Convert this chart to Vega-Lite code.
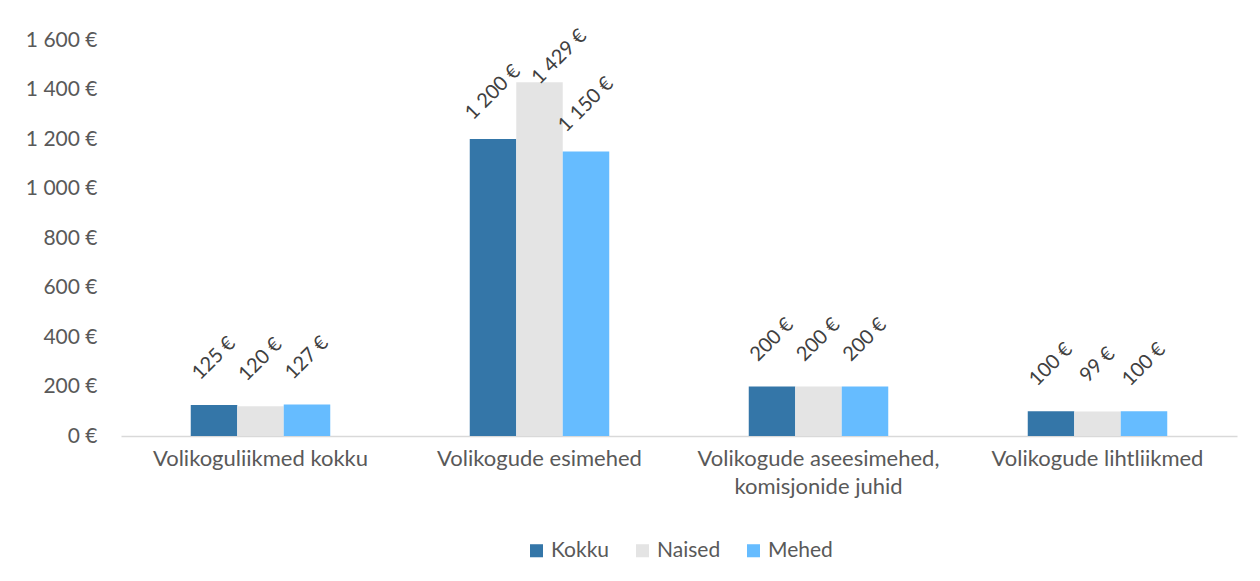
{
  "$schema": "https://vega.github.io/schema/vega-lite/v6.json",
  "autosize": {"type": "none"},
  "width": 1116,
  "height": 396,
  "padding": {"left": 121, "top": 40, "right": 23, "bottom": 145},
  "background": "white",
  "config": {
    "locale": {"number": {"decimal": ",", "thousands": " ", "grouping": [3], "currency": ["", " €"]}},
    "view": {"stroke": null},
    "font": "Lato",
    "axis": {"labelFont": "Lato", "labelColor": "#595959", "labelFontSize": 21, "grid": false, "ticks": false, "title": null},
    "legend": {"labelFont": "Lato", "labelColor": "#595959", "labelFontSize": 21, "layout": {"bottom": {"anchor": "middle"}}}
  },
  "data": {
    "values": [
      {"category": "Volikoguliikmed kokku", "series": "Kokku", "value": 125},
      {"category": "Volikoguliikmed kokku", "series": "Naised", "value": 120},
      {"category": "Volikoguliikmed kokku", "series": "Mehed", "value": 127},
      {"category": "Volikogude esimehed", "series": "Kokku", "value": 1200},
      {"category": "Volikogude esimehed", "series": "Naised", "value": 1429},
      {"category": "Volikogude esimehed", "series": "Mehed", "value": 1150},
      {"category": "Volikogude aseesimehed, komisjonide juhid", "series": "Kokku", "value": 200},
      {"category": "Volikogude aseesimehed, komisjonide juhid", "series": "Naised", "value": 200},
      {"category": "Volikogude aseesimehed, komisjonide juhid", "series": "Mehed", "value": 200},
      {"category": "Volikogude lihtliikmed", "series": "Kokku", "value": 100},
      {"category": "Volikogude lihtliikmed", "series": "Naised", "value": 99},
      {"category": "Volikogude lihtliikmed", "series": "Mehed", "value": 100}
    ]
  },
  "encoding": {
    "x": {
      "field": "category",
      "type": "nominal",
      "sort": null,
      "scale": {"paddingInner": 0.5, "paddingOuter": 0.25},
      "axis": {
        "labelAngle": 0,
        "labelPadding": 12,
        "labelLimit": 0,
        "labelFontSize": 22,
        "domainColor": "#D9D9D9",
        "domainWidth": 1.5,
        "labelLineHeight": 28,
        "labelExpr": "datum.value == 'Volikogude aseesimehed, komisjonide juhid' ? ['Volikogude aseesimehed,', 'komisjonide juhid'] : datum.label"
      }
    },
    "xOffset": {
      "field": "series",
      "type": "nominal",
      "sort": ["Kokku", "Naised", "Mehed"],
      "scale": {"paddingInner": 0, "paddingOuter": 0}
    },
    "y": {
      "field": "value",
      "type": "quantitative",
      "scale": {"domain": [0, 1600], "nice": false},
      "axis": {
        "values": [0, 200, 400, 600, 800, 1000, 1200, 1400, 1600],
        "domain": false,
        "labelPadding": 24,
        "format": "$,.0f"
      }
    }
  },
  "layer": [
    {
      "mark": {"type": "bar"},
      "encoding": {
        "color": {
          "field": "series",
          "type": "nominal",
          "sort": ["Kokku", "Naised", "Mehed"],
          "scale": {"domain": ["Kokku", "Naised", "Mehed"], "range": ["#3476A8", "#E4E4E4", "#66BCFF"]},
          "legend": {
            "orient": "bottom",
            "direction": "horizontal",
            "title": null,
            "symbolType": "square",
            "symbolSize": 170,
            "symbolStrokeWidth": 0,
            "symbolOpacity": 1,
            "columnPadding": 22,
            "labelOffset": 4,
            "offset": 43
          }
        }
      }
    },
    {
      "transform": [{"filter": "datum.value < 1400"}],
      "mark": {"type": "text", "angle": -45, "align": "center", "baseline": "middle", "dx": 33, "dy": -33, "fontSize": 20, "color": "#404040", "font": "Lato"},
      "encoding": {
        "text": {"field": "value", "type": "quantitative", "format": "$,.0f"}
      }
    },
    {
      "transform": [{"filter": "datum.value >= 1400"}],
      "mark": {"type": "text", "angle": -45, "align": "center", "baseline": "middle", "dx": 32, "dy": -4, "fontSize": 20, "color": "#404040", "font": "Lato"},
      "encoding": {
        "text": {"field": "value", "type": "quantitative", "format": "$,.0f"}
      }
    }
  ]
}
